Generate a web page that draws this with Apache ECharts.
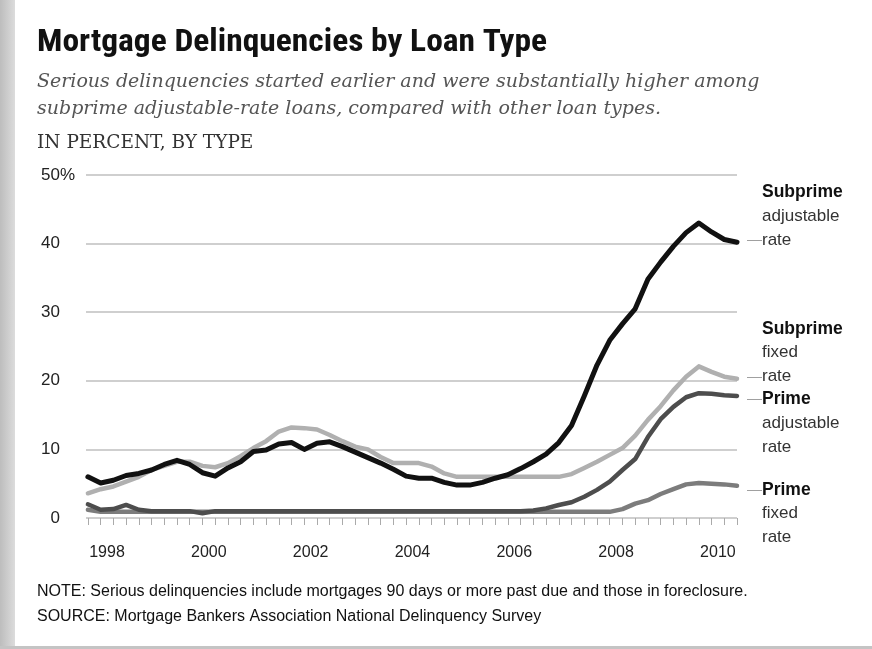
<!DOCTYPE html>
<html>
<head>
<meta charset="utf-8">
<script src="https://cdn.jsdelivr.net/npm/echarts@6/dist/echarts.min.js"></script>
<style>
  html, body { margin: 0; padding: 0; }
  body {
    width: 872px; height: 649px; overflow: hidden;
    background: linear-gradient(to right, #bdbdbd 0px, #dcdcdc 15px, #ffffff 15px);
  }
  #frame { position: absolute; left: 15px; top: 0; width: 857px; height: 646px; background: #fff; }
  #bottom { position: absolute; left: 0; top: 646px; width: 872px; height: 3px; background: #c4c4c4; }
  #chart { position: absolute; left: 0; top: 0; width: 872px; height: 649px; }
</style>
</head>
<body>
<div id="frame"></div>
<div id="bottom"></div>
<div id="chart"></div>
<script>
// Quarterly serious-delinquency rates (percent), 1998 Q1 through 2010 Q4
const years = [1998, 1999, 2000, 2001, 2002, 2003, 2004, 2005, 2006, 2007, 2008, 2009, 2010];
const quarters = [];
years.forEach(y => ['Q1', 'Q2', 'Q3', 'Q4'].forEach(q => quarters.push(y + ' ' + q)));

const subprimeAdjustable = [
  6.0, 5.1, 5.5, 6.2, 6.5, 7.0, 7.8, 8.4, 7.8, 6.6,
  6.1, 7.3, 8.2, 9.7, 9.9, 10.8, 11.0, 10.0, 10.9, 11.1,
  10.4, 9.6, 8.8, 8.0, 7.1, 6.1, 5.8, 5.8, 5.2, 4.8,
  4.8, 5.2, 5.8, 6.3, 7.2, 8.2, 9.3, 11.0, 13.5, 17.8,
  22.3, 25.9, 28.3, 30.5, 34.8, 37.3, 39.6, 41.6, 43.0, 41.7,
  40.6, 40.2
];
const subprimeFixed = [
  3.6, 4.2, 4.6, 5.3, 6.0, 7.0, 7.6, 8.2, 8.2, 7.6,
  7.4, 8.0, 9.0, 10.2, 11.2, 12.6, 13.2, 13.1, 12.9, 12.1,
  11.2, 10.4, 10.0, 8.9, 8.0, 8.0, 8.0, 7.5, 6.5, 6.0,
  6.0, 6.0, 6.0, 6.0, 6.0, 6.0, 6.0, 6.0, 6.4, 7.3,
  8.2, 9.2, 10.2, 12.0, 14.3, 16.3, 18.6, 20.6, 22.1, 21.3,
  20.6, 20.3
];
const primeAdjustable = [
  2.0, 1.2, 1.3, 1.9, 1.2, 1.0, 1.0, 1.0, 1.0, 0.7,
  1.0, 1.0, 1.0, 1.0, 1.0, 1.0, 1.0, 1.0, 1.0, 1.0,
  1.0, 1.0, 1.0, 1.0, 1.0, 1.0, 1.0, 1.0, 1.0, 1.0,
  1.0, 1.0, 1.0, 1.0, 1.0, 1.1, 1.4, 1.9, 2.3, 3.1,
  4.1, 5.3, 7.0, 8.6, 11.8, 14.4, 16.2, 17.6, 18.2, 18.1,
  17.9, 17.8
];
const primeFixed = [
  1.2, 0.9, 0.9, 0.9, 0.9, 0.9, 0.9, 0.9, 0.9, 0.9,
  0.9, 0.9, 0.9, 0.9, 0.9, 0.9, 0.9, 0.9, 0.9, 0.9,
  0.9, 0.9, 0.9, 0.9, 0.9, 0.9, 0.9, 0.9, 0.9, 0.9,
  0.9, 0.9, 0.9, 0.9, 0.9, 0.9, 0.9, 0.9, 0.9, 0.9,
  0.9, 0.9, 1.3, 2.1, 2.6, 3.5, 4.2, 4.9, 5.1, 5.0,
  4.9, 4.7
];

const yearTickLabels = ['1998', '2000', '2002', '2004', '2006', '2008', '2010'];
const yTicks = [0, 10, 20, 30, 40, 50];

// x position of a year label: centred on the middle of that year's four quarters
const yearLabelPos = yearTickLabels.map(y => (Number(y) - years[0]) * 4 + 1.5);
const quarterTickPos = quarters.map((_, i) => i);

const SANS = '"Liberation Sans", Arial, sans-serif';
const CONDENSED = '"Roboto Condensed", "Liberation Sans", sans-serif';

// label lines; "lead" is the line that carries the short guide dash
const lines = [
  { name: 'Prime fixed rate', data: primeFixed, color: '#7c7c7c',
    text: ['Prime', 'fixed', 'rate'], lead: 0, dy: 28 },
  { name: 'Prime adjustable rate', data: primeAdjustable, color: '#4d4d4d',
    text: ['Prime', 'adjustable', 'rate'], lead: 0, dy: 27 },
  { name: 'Subprime fixed rate', data: subprimeFixed, color: '#b0b0b0',
    text: ['Subprime', 'fixed', 'rate'], lead: 2, dy: -26 },
  { name: 'Subprime adjustable rate', data: subprimeAdjustable, color: '#111111',
    text: ['Subprime', 'adjustable', 'rate'], lead: 2, dy: -26, width: 5 }
];

const labelRich = {
  b: { fontFamily: SANS, fontWeight: 'bold', fontSize: 17.5, color: '#111', lineHeight: 24 },
  n: { fontFamily: SANS, fontSize: 17, color: '#333', lineHeight: 24 },
  g: { fontFamily: SANS, fontSize: 15, color: '#a0a0a0', lineHeight: 24 },
  h: { fontFamily: SANS, fontSize: 15, color: 'rgba(0,0,0,0)', lineHeight: 24 }
};

const series = lines.map(l => ({
  name: l.name,
  type: 'line',
  data: l.data.map((v, i) => [i, v]),
  symbol: 'none',
  lineStyle: { color: l.color, width: l.width || 4.5, join: 'round', cap: 'round' },
  endLabel: {
    show: true,
    distance: 10,
    offset: [0, l.dy],
    align: 'left',
    formatter: () => l.text.map((t, k) =>
      (k === l.lead ? '{g|\u2014}' : '{h|\u2014}') + '{' + (k === 0 ? 'b' : 'n') + '|' + t + '}'
    ).join('\n'),
    rich: labelRich
  }
}));

const chart = echarts.init(document.getElementById('chart'), null, { renderer: 'canvas' });
chart.setOption({
  backgroundColor: 'transparent',
  animation: false,
  grid: { left: 86, right: 135, top: 175, bottom: 131, containLabel: false },
  xAxis: {
    type: 'value',
    min: -0.15,
    max: quarters.length - 1,
    axisLine: { show: false },
    splitLine: { show: false },
    axisTick: {
      show: true,
      customValues: quarterTickPos,
      length: 7,
      lineStyle: { color: '#aaaaaa', width: 1 }
    },
    axisLabel: {
      customValues: yearLabelPos,
      formatter: v => String(years[0] + Math.floor(v / 4)),
      margin: 27,
      fontFamily: SANS,
      fontSize: 16,
      color: '#222'
    }
  },
  yAxis: {
    type: 'value',
    min: 0,
    max: 50,
    interval: 10,
    axisLine: { show: false },
    axisTick: { show: false },
    splitLine: { lineStyle: { color: '#cfcfcf', width: 2 } },
    axisLabel: {
      margin: 11,
      align: 'right',
      // the top label carries the unit; the others keep an invisible one so digits line up
      formatter: v => v === yTicks[yTicks.length - 1] ? '{n|' + v + '}{p|%}' : '{n|' + v + '}{h|%}',
      rich: {
        n: { fontFamily: SANS, fontSize: 17, color: '#222' },
        p: { fontFamily: SANS, fontSize: 17, color: '#222' },
        h: { fontFamily: SANS, fontSize: 17, color: 'rgba(0,0,0,0)' }
      }
    }
  },
  graphic: [
    { type: 'text', left: 37, top: 28, scaleX: 1.08, originX: 37, style: {
        text: 'Mortgage Delinquencies by Loan Type',
        font: 'bold 31px ' + CONDENSED, fill: '#111' } },
    { type: 'text', left: 37, top: 69, style: {
        text: 'Serious delinquencies started earlier and were substantially higher among\nsubprime adjustable-rate loans, compared with other loan types.',
        font: 'italic 19px "DejaVu Serif", serif', fill: '#555', lineHeight: 27 } },
    { type: 'text', left: 37, top: 134, style: {
        text: 'IN PERCENT, BY TYPE',
        font: '18.5px "DejaVu Serif", serif', fill: '#333' } },
    { type: 'text', left: 37, top: 584, style: {
        text: 'NOTE: Serious delinquencies include mortgages 90 days or more past due and those in foreclosure.',
        font: '16px ' + SANS, fill: '#111' } },
    { type: 'text', left: 37, top: 609, style: {
        text: 'SOURCE: Mortgage Bankers Association National Delinquency Survey',
        font: '16px ' + SANS, fill: '#111' } }
  ],
  series: series
});
</script>
</body>
</html>
